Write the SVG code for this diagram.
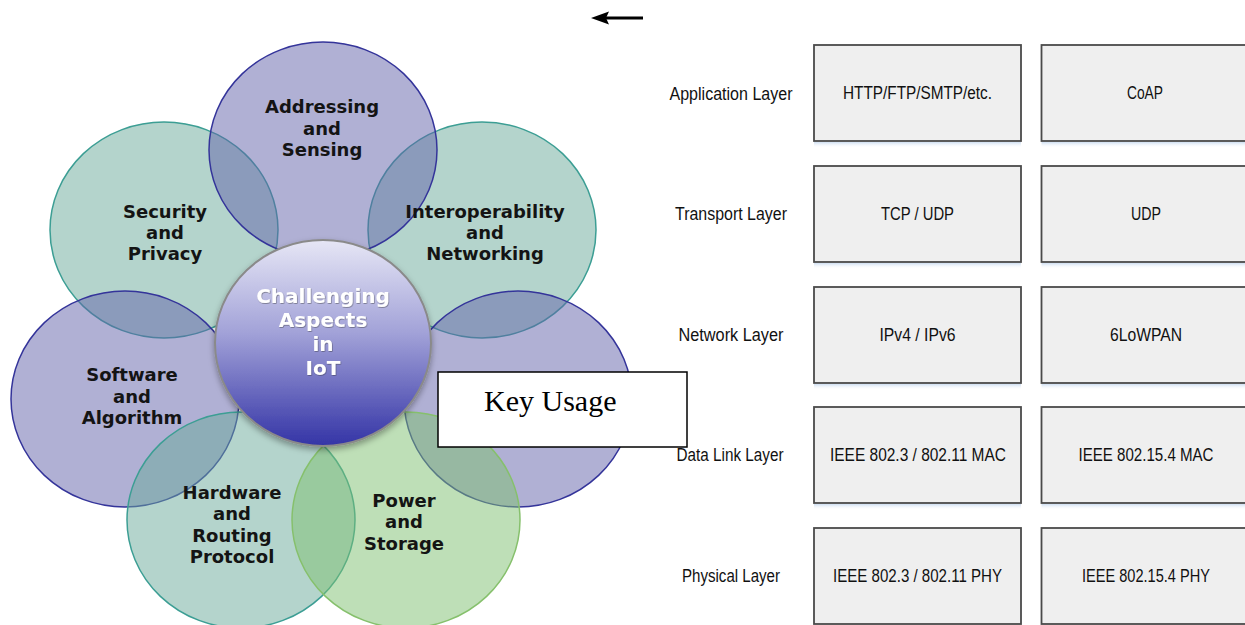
<svg xmlns="http://www.w3.org/2000/svg" width="1245" height="625" viewBox="0 0 1245 625">
  <defs>
    <style>
      .petal-text { font-family: "DejaVu Sans", Verdana, sans-serif; font-weight: bold; font-size: 18px; fill: #141414; text-anchor: middle; }
      .hub-text { font-family: "DejaVu Sans", Verdana, sans-serif; font-weight: bold; font-size: 20px; fill: #ffffff; text-anchor: middle; }
      .lav { fill: rgb(97,97,169); fill-opacity: 0.5; stroke: #34349a; stroke-width: 1.5; }
      .teal { fill: rgb(105,169,153); fill-opacity: 0.5; stroke: #3c9e94; stroke-width: 1.5; }
      .green { fill: rgb(125,192,112); fill-opacity: 0.5; stroke: #86c06c; stroke-width: 1.5; }
      .layer-label { font-family: "Liberation Sans", Arial, sans-serif; font-size: 17.5px; fill: #111; text-anchor: middle; }
      .cell { fill: #efefef; stroke: #4a4a4a; stroke-width: 1.8; }
      .cell-glow { fill: url(#glow); }
      .cell-text { font-family: "Liberation Sans", Arial, sans-serif; font-size: 17.5px; fill: #111; text-anchor: middle; }
    </style>
    <linearGradient id="hubFill" x1="0" y1="0" x2="0" y2="1">
      <stop offset="0" stop-color="#e6e6f5"/>
      <stop offset="0.45" stop-color="#a2a2d8"/>
      <stop offset="1" stop-color="#3434a6"/>
    </linearGradient>
    <linearGradient id="glow" x1="0" y1="0" x2="0" y2="1">
      <stop offset="0" stop-color="#cfdff2"/>
      <stop offset="1" stop-color="#ffffff" stop-opacity="0"/>
    </linearGradient>
    <filter id="hubShadow" x="-20%" y="-20%" width="140%" height="140%">
      <feDropShadow dx="0" dy="3" stdDeviation="3" flood-color="#000" flood-opacity="0.35"/>
    </filter>
    <filter id="textShadow" x="-10%" y="-20%" width="120%" height="140%">
      <feDropShadow dx="0.6" dy="0.8" stdDeviation="0.6" flood-color="#333" flood-opacity="0.5"/>
    </filter>
  </defs>

  <rect width="1245" height="625" fill="#ffffff"/>

  <!-- petals around the hub -->
  <g id="security">
    <ellipse class="teal" cx="164" cy="230" rx="114" ry="108"/>
  </g>
  <g id="interoperability">
    <ellipse class="teal" cx="482" cy="230" rx="114" ry="108"/>
  </g>
  <g id="addressing">
    <ellipse class="lav" cx="323" cy="150" rx="114" ry="108"/>
  </g>
  <g id="software">
    <ellipse class="lav" cx="125" cy="399" rx="114" ry="108"/>
  </g>
  <g id="right-petal">
    <ellipse class="lav" cx="518" cy="399" rx="114" ry="108"/>
  </g>
  <g id="hardware">
    <ellipse class="teal" cx="241" cy="520" rx="114" ry="108"/>
  </g>
  <g id="power">
    <ellipse class="green" cx="406" cy="520" rx="114" ry="108"/>
  </g>

  <!-- petal labels -->
  <g id="petal-labels">
    <text class="petal-text" x="322" y="113">Addressing</text>
    <text class="petal-text" x="322" y="135">and</text>
    <text class="petal-text" x="322" y="156">Sensing</text>

    <text class="petal-text" x="165" y="218">Security</text>
    <text class="petal-text" x="165" y="239">and</text>
    <text class="petal-text" x="165" y="260">Privacy</text>

    <text class="petal-text" x="485" y="218">Interoperability</text>
    <text class="petal-text" x="485" y="239">and</text>
    <text class="petal-text" x="485" y="260">Networking</text>

    <text class="petal-text" x="132" y="381">Software</text>
    <text class="petal-text" x="132" y="403">and</text>
    <text class="petal-text" x="132" y="424">Algorithm</text>

    <text class="petal-text" x="232" y="499">Hardware</text>
    <text class="petal-text" x="232" y="520">and</text>
    <text class="petal-text" x="232" y="542">Routing</text>
    <text class="petal-text" x="232" y="563">Protocol</text>

    <text class="petal-text" x="404" y="507">Power</text>
    <text class="petal-text" x="404" y="528">and</text>
    <text class="petal-text" x="404" y="550">Storage</text>
  </g>

  <!-- central hub -->
  <g id="hub">
    <ellipse cx="323" cy="343" rx="108" ry="103" fill="url(#hubFill)" stroke="#8a8a8a" stroke-width="2" filter="url(#hubShadow)"/>
    <g filter="url(#textShadow)">
      <text class="hub-text" x="323" y="303">Challenging</text>
      <text class="hub-text" x="323" y="327">Aspects</text>
      <text class="hub-text" x="323" y="351">in</text>
      <text class="hub-text" x="323" y="375">IoT</text>
    </g>
  </g>

  <!-- key usage callout -->
  <g id="key-usage">
    <rect x="438" y="372" width="249" height="75" fill="#ffffff" stroke="#000000" stroke-width="1.5"/>
    <text x="484" y="411" font-family="Liberation Serif, 'Times New Roman', serif" font-size="30" fill="#000">Key Usage</text>
  </g>

  <!-- connectors -->
  <g id="connectors">
    <line x1="643" y1="18" x2="604" y2="18" stroke="#000" stroke-width="3"/>
    <polygon points="591,18 609,11.5 606,18 609,24.5" fill="#000"/>
  </g>

  <!-- protocol stack -->
  <g id="stack-labels">
    <text class="layer-label" x="731" y="100" textLength="123" lengthAdjust="spacingAndGlyphs">Application Layer</text>
    <text class="layer-label" x="731" y="220" textLength="112" lengthAdjust="spacingAndGlyphs">Transport Layer</text>
    <text class="layer-label" x="731" y="341" textLength="105" lengthAdjust="spacingAndGlyphs">Network Layer</text>
    <text class="layer-label" x="730" y="461" textLength="107" lengthAdjust="spacingAndGlyphs">Data Link Layer</text>
    <text class="layer-label" x="731" y="582" textLength="98" lengthAdjust="spacingAndGlyphs">Physical Layer</text>
  </g>

  <g id="app-http">
    <rect class="cell-glow" x="814" y="142" width="207" height="6"/>
    <rect class="cell" x="814" y="45" width="207" height="96"/>
    <text class="cell-text" x="917.5" y="99" textLength="149" lengthAdjust="spacingAndGlyphs">HTTP/FTP/SMTP/etc.</text>
  </g>
  <g id="app-coap">
    <rect class="cell-glow" x="1041.5" y="142" width="215" height="6"/>
    <rect class="cell" x="1041.5" y="45" width="215" height="96"/>
    <text class="cell-text" x="1145" y="99" textLength="36" lengthAdjust="spacingAndGlyphs">CoAP</text>
  </g>

  <g id="transport-tcp">
    <rect class="cell-glow" x="814" y="263" width="207" height="6"/>
    <rect class="cell" x="814" y="166" width="207" height="96"/>
    <text class="cell-text" x="917.5" y="220" textLength="73" lengthAdjust="spacingAndGlyphs">TCP / UDP</text>
  </g>
  <g id="transport-udp">
    <rect class="cell-glow" x="1041.5" y="263" width="215" height="6"/>
    <rect class="cell" x="1041.5" y="166" width="215" height="96"/>
    <text class="cell-text" x="1146" y="220" textLength="30" lengthAdjust="spacingAndGlyphs">UDP</text>
  </g>

  <g id="network-ip">
    <rect class="cell-glow" x="814" y="384" width="207" height="6"/>
    <rect class="cell" x="814" y="287" width="207" height="96"/>
    <text class="cell-text" x="917.5" y="341" textLength="76" lengthAdjust="spacingAndGlyphs">IPv4 / IPv6</text>
  </g>
  <g id="network-6lowpan">
    <rect class="cell-glow" x="1041.5" y="384" width="215" height="6"/>
    <rect class="cell" x="1041.5" y="287" width="215" height="96"/>
    <text class="cell-text" x="1146" y="341" textLength="72" lengthAdjust="spacingAndGlyphs">6LoWPAN</text>
  </g>

  <g id="link-80211">
    <rect class="cell-glow" x="814" y="504" width="207" height="6"/>
    <rect class="cell" x="814" y="407" width="207" height="96"/>
    <text class="cell-text" x="918" y="461" textLength="176" lengthAdjust="spacingAndGlyphs">IEEE 802.3 / 802.11 MAC</text>
  </g>
  <g id="link-802154">
    <rect class="cell-glow" x="1041.5" y="504" width="215" height="6"/>
    <rect class="cell" x="1041.5" y="407" width="215" height="96"/>
    <text class="cell-text" x="1146" y="461" textLength="135" lengthAdjust="spacingAndGlyphs">IEEE 802.15.4 MAC</text>
  </g>

  <g id="phy-80211">
    <rect class="cell" x="814" y="528" width="207" height="96"/>
    <text class="cell-text" x="917.5" y="582" textLength="169" lengthAdjust="spacingAndGlyphs">IEEE 802.3 / 802.11 PHY</text>
  </g>
  <g id="phy-802154">
    <rect class="cell" x="1041.5" y="528" width="215" height="96"/>
    <text class="cell-text" x="1146" y="582" textLength="128" lengthAdjust="spacingAndGlyphs">IEEE 802.15.4 PHY</text>
  </g>
</svg>
